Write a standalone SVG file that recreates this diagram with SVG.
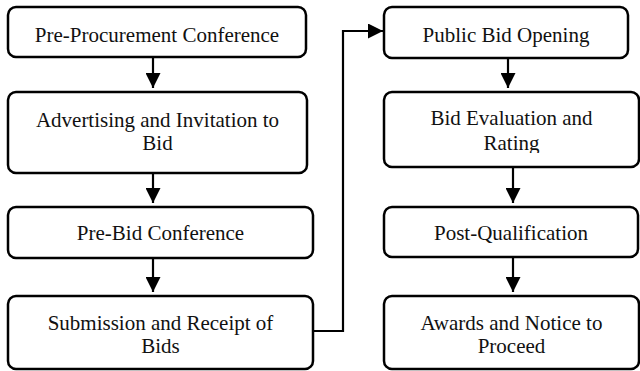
<svg xmlns="http://www.w3.org/2000/svg" width="640" height="371" viewBox="0 0 640 371">
  <defs>
    <style>
      .box { fill: #ffffff; stroke: #000000; stroke-width: 2.5; }
      .lbl { font-family: "Liberation Serif", "Times New Roman", serif; font-size: 21px; fill: #111111; text-anchor: middle; }
      .wire { fill: none; stroke: #000000; stroke-width: 2.2; }
    </style>
    <marker id="head" viewBox="0 0 15 15" refX="15" refY="7.5" markerWidth="15" markerHeight="15" markerUnits="userSpaceOnUse" orient="auto">
      <path d="M0,0 L15,7.5 L0,15 Z" fill="#000000"/>
    </marker>
    <clipPath id="clipRating">
      <rect x="384" y="92" width="255" height="61"/>
    </clipPath>
  </defs>
  <rect width="640" height="371" fill="#ffffff"/>

  <!-- connectors -->
  <g id="connectors">
    <path class="wire" d="M153,57 L153,88" marker-end="url(#head)"/>
    <path class="wire" d="M153,173 L153,203" marker-end="url(#head)"/>
    <path class="wire" d="M153,258 L153,292" marker-end="url(#head)"/>
    <path class="wire" d="M313,331 L343,331 L343,31 L383,31" marker-end="url(#head)"/>
    <path class="wire" d="M508,58 L508,88" marker-end="url(#head)"/>
    <path class="wire" d="M513,167 L513,203" marker-end="url(#head)"/>
    <path class="wire" d="M513,257 L513,292" marker-end="url(#head)"/>
  </g>

  <!-- left column -->
  <g id="pre-procurement">
    <rect class="box" x="8" y="7" width="298" height="50" rx="8"/>
    <text class="lbl" x="157" y="42">Pre-Procurement Conference</text>
  </g>
  <g id="advertising">
    <rect class="box" x="8" y="92" width="299" height="81" rx="8"/>
    <text class="lbl" x="157.5" y="127">Advertising and Invitation to</text>
    <text class="lbl" x="157.5" y="150">Bid</text>
  </g>
  <g id="pre-bid">
    <rect class="box" x="8" y="207" width="305" height="51" rx="8"/>
    <text class="lbl" x="160.5" y="240">Pre-Bid Conference</text>
  </g>
  <g id="submission">
    <rect class="box" x="8" y="296" width="305" height="73" rx="8"/>
    <text class="lbl" x="160.5" y="330">Submission and Receipt of</text>
    <text class="lbl" x="160.5" y="353">Bids</text>
  </g>

  <!-- right column -->
  <g id="bid-opening">
    <rect class="box" x="384" y="7" width="244" height="51" rx="8"/>
    <text class="lbl" x="506" y="42">Public Bid Opening</text>
  </g>
  <g id="evaluation">
    <rect class="box" x="384" y="92" width="255" height="75" rx="8"/>
    <text class="lbl" x="511.5" y="125">Bid Evaluation and</text>
    <text class="lbl" x="511.5" y="150" clip-path="url(#clipRating)">Rating</text>
  </g>
  <g id="post-qualification">
    <rect class="box" x="384" y="207" width="254" height="50" rx="8"/>
    <text class="lbl" x="511" y="240">Post-Qualification</text>
  </g>
  <g id="awards">
    <rect class="box" x="384" y="296" width="255" height="73" rx="8"/>
    <text class="lbl" x="511.5" y="330">Awards and Notice to</text>
    <text class="lbl" x="511.5" y="353">Proceed</text>
  </g>
</svg>
